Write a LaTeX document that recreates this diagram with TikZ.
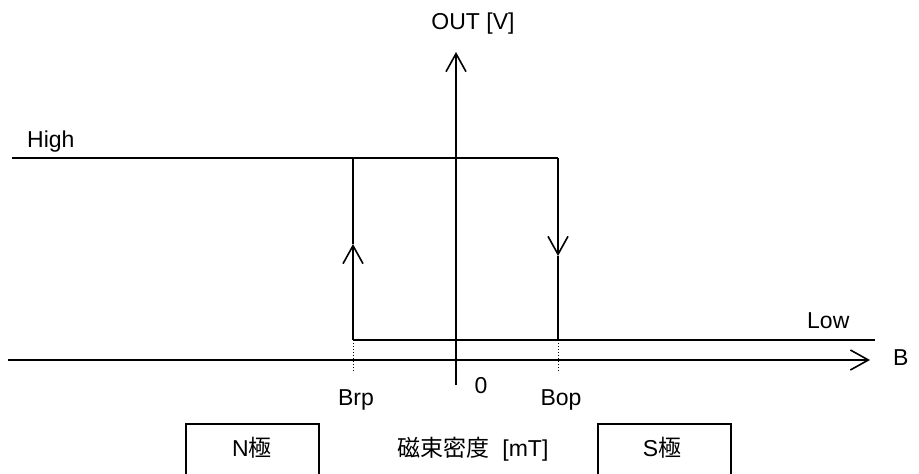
\documentclass[tikz,border=0pt]{standalone}
\usepackage{fontspec}
\setmainfont{Liberation Sans}
\newfontfamily\cjk{Noto Sans CJK JP}
\usetikzlibrary{arrows.meta}
\begin{document}
\begin{tikzpicture}[x=1pt,y=-1pt,
  lbl/.style={inner sep=0pt,font=\fontsize{23}{27}\selectfont},
  axisline/.style={line width=1.8pt,-{Straight Barb[length=18pt,width=20pt,line width=1.6pt]}},
  sigline/.style={line width=1.6pt},
  sigarrow/.style={line width=1.6pt,-{Straight Barb[length=18pt,width=20pt,line width=1.6pt]}},
  guide/.style={line width=1pt,dotted},
  polebox/.style={line width=1.4pt}]
\useasboundingbox (0,0) rectangle (919,474);
% coordinates
\coordinate (xs) at (8,360);
\coordinate (xe) at (870,360);
\coordinate (ys) at (456,385);
\coordinate (ye) at (456,52);
\coordinate (hs) at (12,158);
\coordinate (brpT) at (353,158);
\coordinate (brpB) at (353,340);
\coordinate (brpA) at (353,244);
\coordinate (bopT) at (558,158);
\coordinate (bopB) at (558,340);
\coordinate (bopA) at (558,256);
\coordinate (le) at (875,340);
\coordinate (brpD) at (353,373);
\coordinate (bopD) at (558,373);
% axes
\draw[axisline] (xs) -- (xe);
\draw[axisline] (ys) -- (ye);
% high line
\draw[sigline] (hs) -- (bopT);
% Brp transition (up)
\draw[sigarrow] (brpB) -- (brpA);
\draw[sigline] (brpA) -- (brpT);
% Bop transition (down)
\draw[sigarrow] (bopT) -- (bopA);
\draw[sigline] (bopA) -- (bopB);
% low line
\draw[sigline] (brpB) -- (le);
% dotted guides
\draw[guide] (brpB) -- (brpD);
\draw[guide] (bopB) -- (bopD);
% labels
\node[lbl,anchor=base] (out) at (473,29) {OUT [V]};
\node[lbl,anchor=base west] (high) at (27,147) {High};
\node[lbl,anchor=base west] (low) at (807,328) {Low};
\node[lbl,anchor=base west] (bl) at (893,365) {B};
\node[lbl,anchor=base] (zero) at (481,393) {0};
\node[lbl,anchor=base] (brp) at (356,405) {Brp};
\node[lbl,anchor=base] (bop) at (561,405) {Bop};
% pole boxes
\draw[polebox] (186,476) -- (186,424) -- (319,424) -- (319,476);
\draw[polebox] (598,476) -- (598,424) -- (731,424) -- (731,476);
\node[lbl,anchor=base] (np) at (252,456) {N{\cjk 極}};
\node[lbl,anchor=base] (mag) at (473,456) {{\cjk 磁束密度}\ \ [mT]};
\node[lbl,anchor=base] (sp) at (662,456) {S{\cjk 極}};
\end{tikzpicture}
\end{document}
